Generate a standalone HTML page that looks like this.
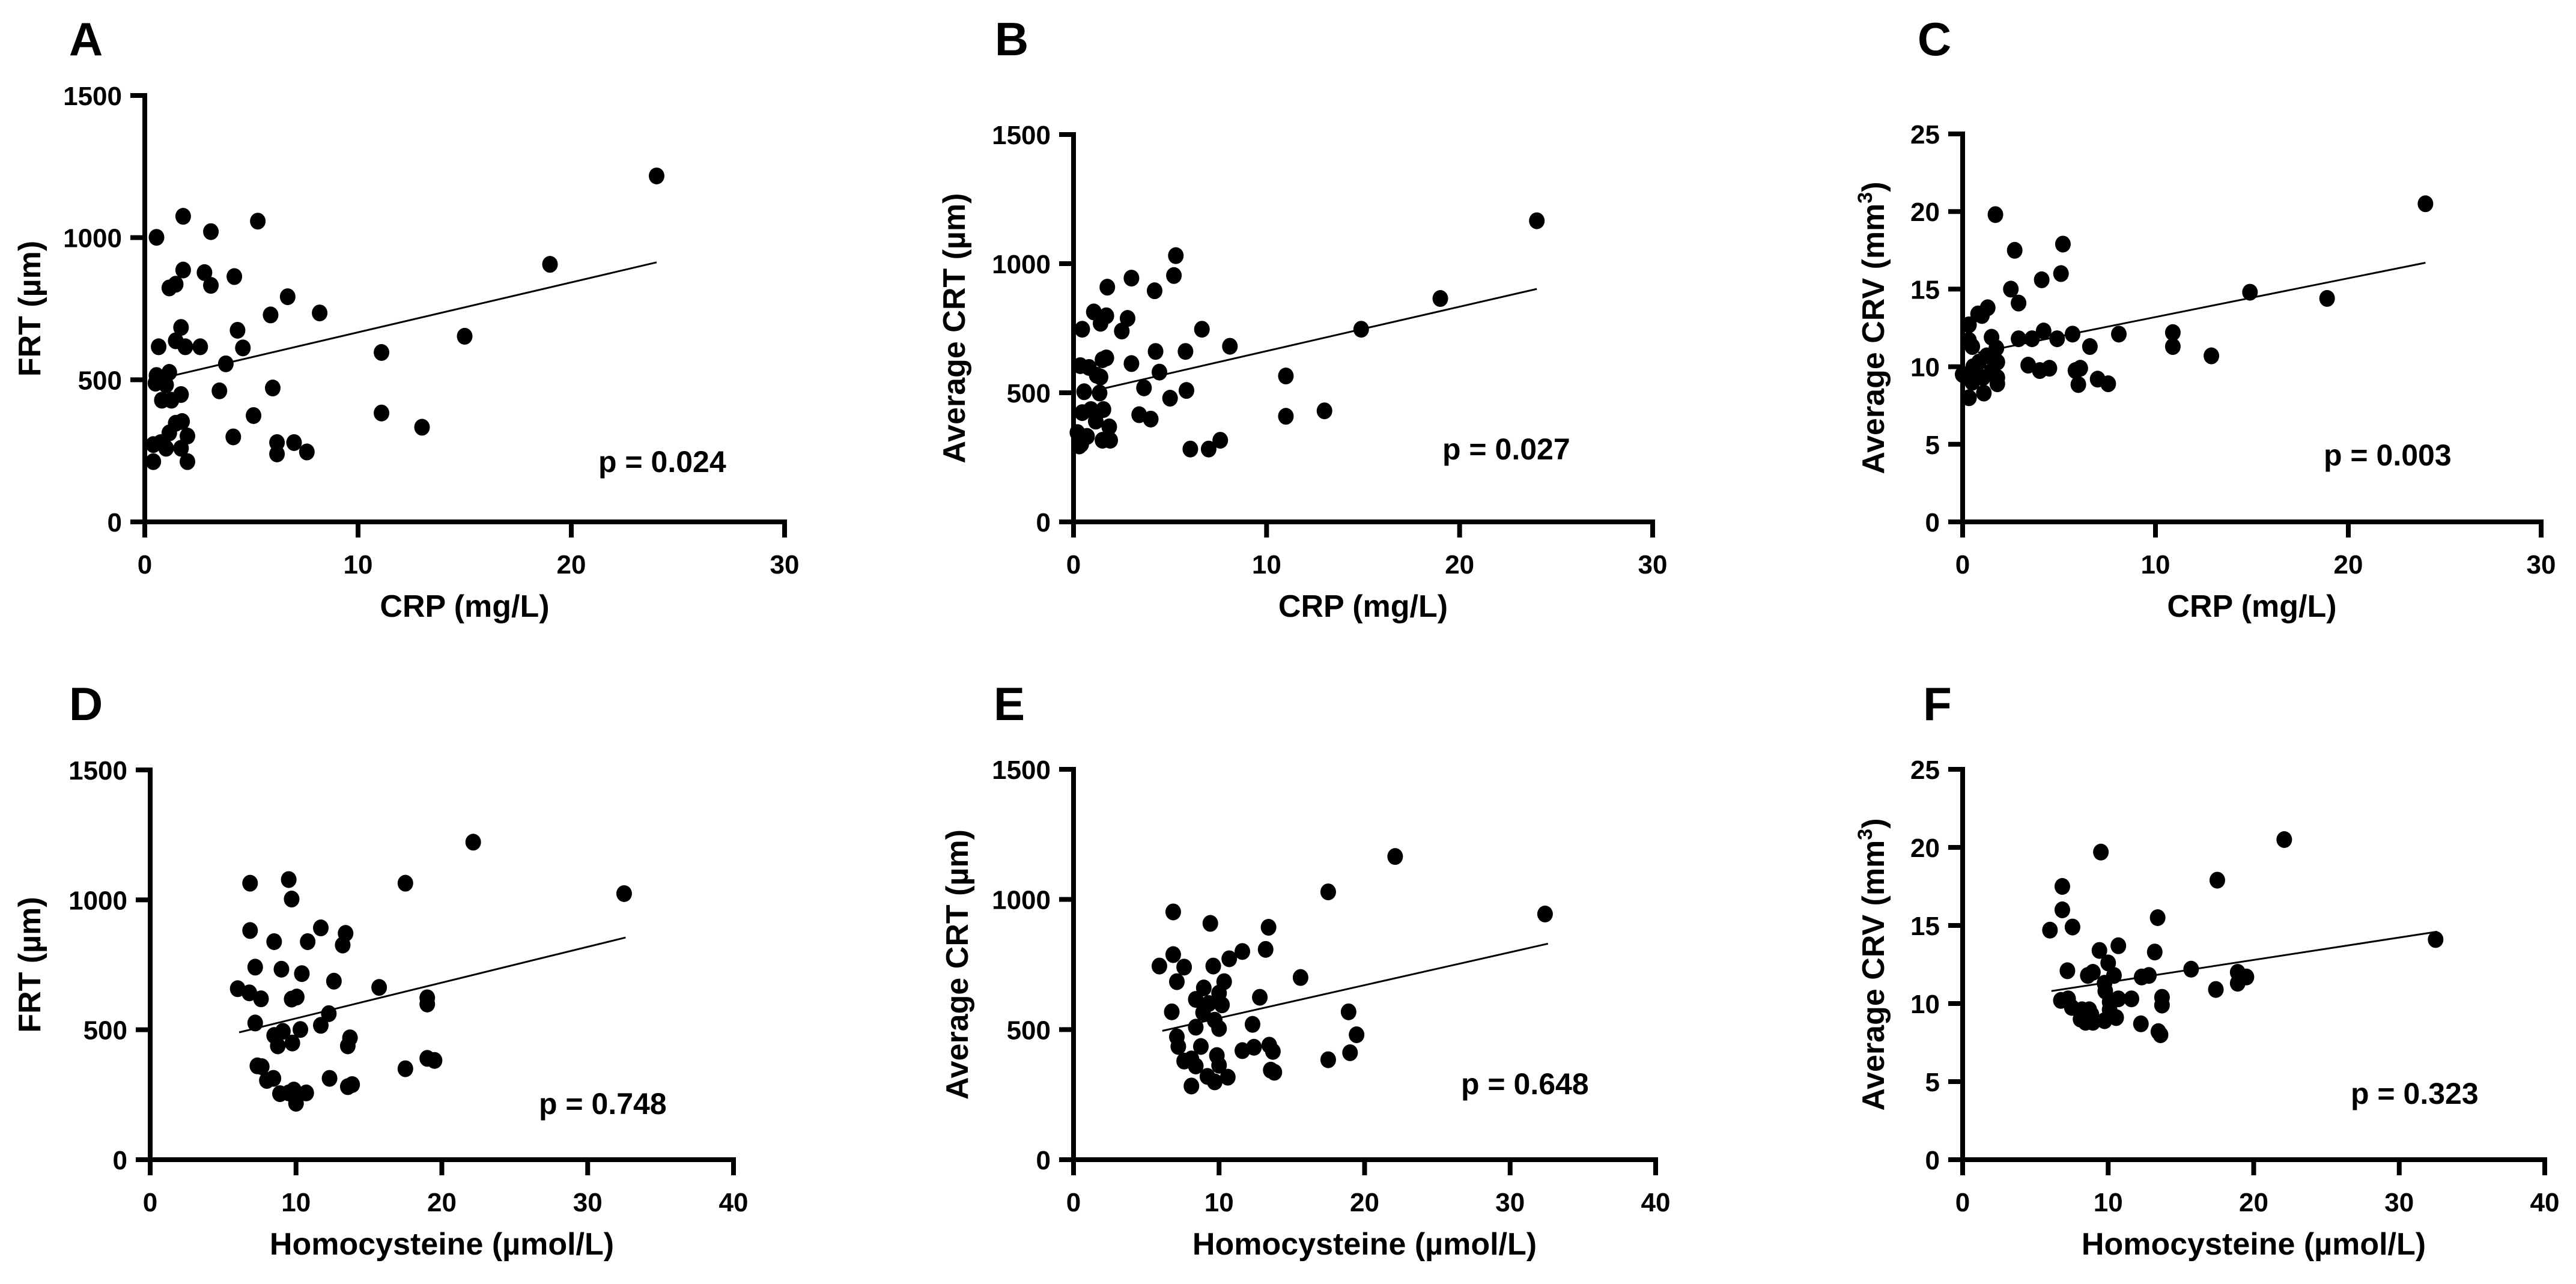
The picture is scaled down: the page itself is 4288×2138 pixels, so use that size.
<!DOCTYPE html>
<html><head><meta charset="utf-8"><style>
html,body{margin:0;padding:0;background:#fff;}
svg{display:block;}
text{font-family:"Liberation Sans",Arial,sans-serif;font-weight:bold;fill:#000;}
</style></head><body>
<svg id="fig" width="4288" height="2138" viewBox="0 0 4288 2138" xmlns="http://www.w3.org/2000/svg"></svg>
<script>
// ---- data ----
const crpTicks = [0, 10, 20, 30];
const hcyTicks = [0, 10, 20, 30, 40];
const umTicks = [0, 500, 1000, 1500];
const mm3Ticks = [0, 5, 10, 15, 20, 25];

const aX = [24.0,19.0,15.0,11.1,11.1,13.0,5.3,1.8,3.1,0.55,1.8,2.8,3.1,4.2,1.15,1.45,6.7,8.2,5.9,4.35,1.7,1.45,1.9,2.6,4.6,0.65,3.8,1.15,0.55,0.75,1.0,0.5,1.7,0.8,1.25,3.5,6.0,5.1,4.15,1.75,1.45,1.15,2.0,6.2,6.2,7.0,7.6,0.4,0.4,1.0,1.7,2.0,0.75];
const aY = [1217,906,653,596,383,333,1058,1075,1021,1001,886,877,832,863,823,836,792,735,728,674,684,637,616,616,612,616,556,526,515,495,482,488,448,428,428,461,471,374,299,353,347,313,302,279,239,279,246,272,212,259,259,212,279];
const aFitX = [0.5, 24];
const aFitY = [500, 913];

const bX = [24.0,19.0,14.9,11.0,11.0,13.0,5.3,5.2,3.0,4.2,1.75,1.05,1.7,1.4,2.8,2.5,0.45,6.65,8.1,4.25,5.8,1.7,1.5,3.0,0.35,0.8,1.2,1.4,4.45,3.65,5.85,5.0,0.55,1.35,3.4,4.0,0.45,0.9,1.55,1.15,1.85,0.2,0.7,1.5,1.9,0.4,6.05,7.0,7.6,0.3];
const bY = [1166,865,746,565,409,430,1031,954,944,895,909,813,798,769,788,739,746,746,680,660,660,635,628,613,605,598,568,561,580,519,509,479,504,499,415,398,423,435,435,390,368,346,331,316,316,301,282,282,316,294];
const bFitX = [1.0, 24];
const bFitY = [507, 902];

const cX = [24.0,18.9,14.9,10.9,10.9,12.9,1.7,5.2,2.7,5.1,4.1,2.5,2.9,1.3,0.8,1.0,0.33,4.2,5.7,8.1,1.5,2.9,3.6,4.9,6.6,0.33,0.5,1.75,1.25,1.8,0.85,0.55,3.4,4.0,4.5,5.85,6.1,1.5,1.05,1.8,0.2,0.5,1.8,6.0,7.0,7.55,1.1,0.33,0.0];
const cY = [20.5,14.4,14.8,12.2,11.3,10.7,19.8,17.9,17.5,16.0,15.6,15.0,14.1,13.8,13.4,13.3,12.7,12.3,12.1,12.1,11.9,11.8,11.8,11.8,11.3,11.7,11.3,11.2,10.7,10.3,10.3,10.0,10.1,9.75,9.9,9.75,9.9,9.7,9.3,9.3,9.3,9.0,8.9,8.85,9.2,8.9,8.3,8.0,9.5];
const cFitX = [0.8, 24];
const cFitY = [10.9, 16.7];

const dX = [22.15,32.5,9.5,6.85,17.5,9.7,6.85,11.7,13.4,13.2,8.5,10.8,7.2,9.0,10.4,12.6,6.0,6.8,7.6,9.7,10.05,15.7,19.0,19.0,12.25,11.7,7.2,10.3,9.1,8.5,8.75,9.75,13.7,13.55,7.35,7.65,17.5,19.0,19.5,8.0,8.45,12.3,13.55,13.85,8.9,9.85,10.7,10.0,9.5];
const dY = [1222,1024,1078,1064,1064,1003,882,892,871,826,839,839,741,733,716,687,658,642,619,618,626,663,623,599,562,517,526,501,494,478,438,449,469,438,361,358,350,390,382,305,313,313,281,289,254,268,257,217,257];
const dFitX = [6.1, 32.6];
const dFitY = [490, 855];

const eX = [22.1,17.5,32.4,6.85,9.4,13.4,13.2,11.6,10.7,6.85,7.6,9.6,5.9,15.6,7.1,10.35,8.95,10.0,12.8,8.4,9.3,10.2,6.75,8.9,18.9,9.7,12.3,8.4,10.0,19.45,7.1,7.2,8.75,13.45,12.4,11.6,13.7,19.0,17.5,7.6,8.1,9.85,8.4,10.0,13.55,13.8,9.2,10.6,9.7,8.1];
const eY = [1165,1029,944,952,908,893,808,800,772,788,740,744,744,700,684,684,660,640,624,616,600,595,568,565,568,536,520,509,504,480,472,435,435,440,432,419,416,411,384,379,387,400,360,363,344,336,320,317,299,283];
const eFitX = [6.1, 32.6];
const eFitY = [495, 830];

const fX = [22.1,9.5,17.5,6.85,6.85,13.4,6.0,7.55,32.5,10.7,9.4,13.2,10.0,7.2,15.7,8.95,8.6,10.4,12.8,12.3,18.9,19.5,18.9,9.75,9.8,17.4,6.75,7.25,10.7,11.6,13.7,13.7,10.1,7.5,8.2,8.7,8.85,10.1,8.1,8.45,8.95,9.75,10.55,12.25,13.45,13.6];
const fY = [20.5,19.7,17.9,17.5,16.0,15.5,14.7,14.9,14.1,13.7,13.4,13.3,12.6,12.1,12.2,12.0,11.8,11.8,11.8,11.7,12.0,11.7,11.3,11.3,10.8,10.9,10.2,10.3,10.3,10.3,10.4,9.9,10.1,9.75,9.6,9.6,9.3,9.6,9.0,8.8,8.8,8.9,9.1,8.7,8.2,8.0];
const fFitX = [6.1, 32.6];
const fFitY = [10.8, 14.6];

// ---- layout ----
const NS = "http://www.w3.org/2000/svg";
const svg = document.getElementById("fig");
function mk(tag, attrs, parent) {
  const el = document.createElementNS(NS, tag);
  for (const k in attrs) el.setAttribute(k, attrs[k]);
  (parent || svg).appendChild(el);
  return el;
}

const panels = [
  {id:"a", letter:"A", lx:143, ly:92, x0:241, x1:1306, y0:869, y1:159, xmax:30, ymax:1500, xt:crpTicks, yt:umTicks, xs:aX, ys:aY, fx:aFitX, fy:aFitY, ytitle:"FRT (µm)", sup:false, xtitle:"CRP (mg/L)", p:"p = 0.024", px:996, py:786, tx:49},
  {id:"b", letter:"B", lx:1684, ly:92, x0:1787, x1:2751, y0:869, y1:224, xmax:30, ymax:1500, xt:crpTicks, yt:umTicks, xs:bX, ys:bY, fx:bFitX, fy:bFitY, ytitle:"Average CRT (µm)", sup:false, xtitle:"CRP (mg/L)", p:"p = 0.027", px:2401, py:765, tx:1588},
  {id:"c", letter:"C", lx:3220, ly:92, x0:3267, x1:4230, y0:869, y1:223, xmax:30, ymax:25, xt:crpTicks, yt:mm3Ticks, xs:cX, ys:cY, fx:cFitX, fy:cFitY, ytitle:"Average CRV (mm", sup:true, xtitle:"CRP (mg/L)", p:"p = 0.003", px:3868, py:775, tx:3118},
  {id:"d", letter:"D", lx:143, ly:1199, x0:250, x1:1221, y0:1931, y1:1282, xmax:40, ymax:1500, xt:hcyTicks, yt:umTicks, xs:dX, ys:dY, fx:dFitX, fy:dFitY, ytitle:"FRT (µm)", sup:false, xtitle:"Homocysteine (µmol/L)", p:"p = 0.748", px:897, py:1855, tx:49},
  {id:"e", letter:"E", lx:1680, ly:1199, x0:1787, x1:2756, y0:1931, y1:1281, xmax:40, ymax:1500, xt:hcyTicks, yt:umTicks, xs:eX, ys:eY, fx:eFitX, fy:eFitY, ytitle:"Average CRT (µm)", sup:false, xtitle:"Homocysteine (µmol/L)", p:"p = 0.648", px:2432, py:1822, tx:1593},
  {id:"f", letter:"F", lx:3225, ly:1199, x0:3267, x1:4236, y0:1931, y1:1281, xmax:40, ymax:25, xt:hcyTicks, yt:mm3Ticks, xs:fX, ys:fY, fx:fFitX, fy:fFitY, ytitle:"Average CRV (mm", sup:true, xtitle:"Homocysteine (µmol/L)", p:"p = 0.323", px:3913, py:1838, tx:3118}
];

panels.forEach(P => {
  const g = mk("g", {});
  
  
  const sx = v => P.x0 + (v / P.xmax) * (P.x1 - P.x0);
  const sy = v => P.y0 - (v / P.ymax) * (P.y0 - P.y1);

  const L = mk("text", {x:P.lx, y:P.ly, "font-size":78, "text-anchor":"middle"}, g);
  L.textContent = P.letter;
  
  

  // axes
  const ax = mk("line", {x1:P.x0, y1:P.y0, x2:P.x1 + 4, y2:P.y0, stroke:"#000", "stroke-width":8}, g);
  
  
  const ay = mk("line", {x1:P.x0, y1:P.y0 + 4, x2:P.x0, y2:P.y1 - 4, stroke:"#000", "stroke-width":8}, g);
  
  

  P.xt.forEach(t => {
    const x = sx(t);
    const tk = mk("line", {x1:x, y1:P.y0, x2:x, y2:P.y0 + 26, stroke:"#000", "stroke-width":8}, g);
    
    
    const tl = mk("text", {x:x, y:P.y0 + 86, "font-size":44, "text-anchor":"middle"}, g);
    tl.textContent = t;
    
    
  });
  P.yt.forEach(t => {
    const y = sy(t);
    const tk = mk("line", {x1:P.x0 - 24, y1:y, x2:P.x0, y2:y, stroke:"#000", "stroke-width":8}, g);
    
    
    const tl = mk("text", {x:P.x0 - 38, y:y + 16, "font-size":44, "text-anchor":"end"}, g);
    tl.textContent = t;
    
    
  });

  // titles
  const xt = mk("text", {x:(P.x0 + P.x1) / 2, y:P.y0 + 158, "font-size":52, "text-anchor":"middle"}, g);
  xt.textContent = P.xtitle;
  
  
  const cy = (P.y0 + P.y1) / 2;
  const yt = mk("text", {x:0, y:0, "font-size":52, "text-anchor":"middle", transform:"translate(" + (P.tx + 18) + "," + cy + ") rotate(-90)"}, g);
  
  
  if (P.sup) {
    const t1 = mk("tspan", {}, yt); t1.textContent = P.ytitle;
    const t2 = mk("tspan", {dy:-20, "font-size":34}, yt); t2.textContent = "3";
    const t3 = mk("tspan", {dy:20}, yt); t3.textContent = ")";
  } else {
    yt.textContent = P.ytitle;
  }

  // regression line
  const fl = mk("line", {x1:sx(P.fx[0]), y1:sy(P.fy[0]), x2:sx(P.fx[1]), y2:sy(P.fy[1]), stroke:"#000", "stroke-width":3}, g);
  
  

  // points
  P.xs.forEach((v, i) => {
    const c = mk("ellipse", {cx:sx(v), cy:sy(P.ys[i]), rx:13, ry:14, fill:"#000"}, g);
    
    
  });

  const pt = mk("text", {x:P.px, y:P.py, "font-size":50, "text-anchor":"start"}, g);
  pt.textContent = P.p;
  
  
});
</script>
</body></html>
